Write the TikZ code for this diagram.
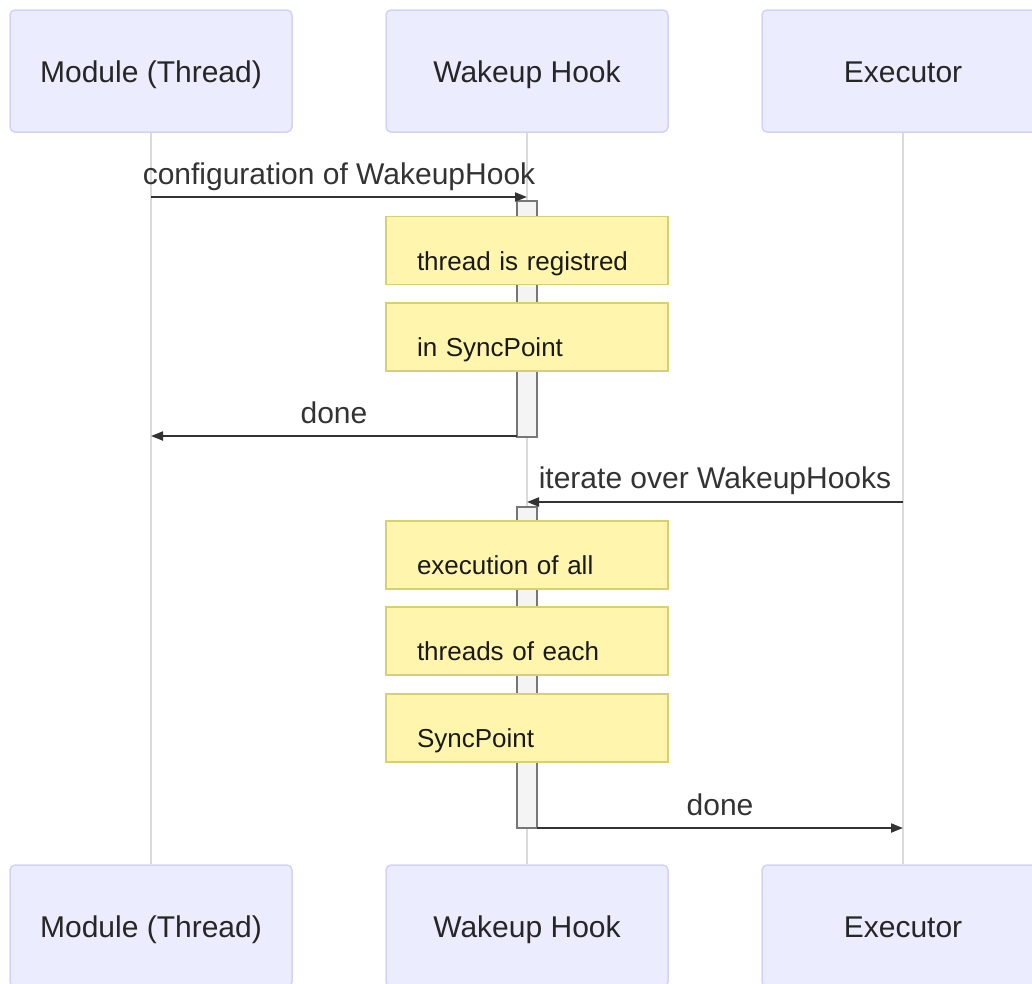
\documentclass[tikz,border=0pt]{standalone}
\usepackage{fontspec}
\setmainfont{Liberation Sans}
\usetikzlibrary{arrows.meta}
\definecolor{actorfill}{HTML}{ECECFF}
\definecolor{actorline}{HTML}{D2D2F6}
\definecolor{notefill}{HTML}{FFF5AD}
\definecolor{noteline}{HTML}{D8D070}
\definecolor{msgline}{HTML}{333333}
\definecolor{lifecol}{HTML}{DADADA}
\definecolor{actfill}{HTML}{F4F4F4}
\definecolor{actline}{HTML}{777777}
\begin{document}
\begin{tikzpicture}[x=1pt,y=-1pt,
  actor/.style={draw=actorline,line width=1.5pt,fill=actorfill,rounded corners=5pt,minimum width=282pt,minimum height=122pt,inner sep=0pt,text height=23pt,text depth=0pt,text=black!85,font=\fontsize{30}{36}\selectfont},
  note/.style={draw=noteline,line width=1.5pt,fill=notefill,minimum width=282pt,minimum height=68pt,inner xsep=31pt,inner ysep=0pt,text width=220pt,align=left,text height=39pt,text depth=0pt,text=black!90,font=\fontsize{26}{30}\selectfont},
  activ/.style={draw=actline,line width=1.5pt,fill=actfill,minimum width=20pt,inner sep=0pt},
  msg/.style={draw=msgline,line width=2pt,-{Triangle[length=12pt,width=9pt]}},
  msglabel/.style={anchor=base,inner sep=0pt,text=msgline,font=\fontsize{30}{36}\selectfont},
  life/.style={draw=lifecol,line width=1.5pt}]
\useasboundingbox (0,0) rectangle (1032,983);
\clip (0,0) rectangle (1032,983);
\node[actor] (modT) at (151,71) {Module (Thread)};
\node[actor] (hookT) at (527,71) {Wakeup Hook};
\node[actor] (execT) at (903,71) {Executor};
\node[actor] (modB) at (151,926) {Module (Thread)};
\node[actor] (hookB) at (527,926) {Wakeup Hook};
\node[actor] (execB) at (903,926) {Executor};
\draw[life] (modT) -- (modB);
\draw[life] (hookT) -- (hookB);
\draw[life] (execT) -- (execB);
\node[activ,minimum height=236pt] (act1) at (527,319) {};
\node[activ,minimum height=321pt] (act2) at (527,667.5) {};
\node[note] (reg1) at (527,250.5) {thread is registred};
\node[note] (reg2) at (527,337) {in SyncPoint};
\node[note] (run1) at (527,555) {execution of all};
\node[note] (run2) at (527,641) {threads of each};
\node[note] (run3) at (527,728) {SyncPoint};
\coordinate (cfgA) at (151,197);
\coordinate (cfgB) at (527,197);
\coordinate (doneA) at (517,436);
\coordinate (doneB) at (151,436);
\coordinate (iterA) at (903,502);
\coordinate (iterB) at (527,502);
\coordinate (finA) at (537,828);
\coordinate (finB) at (903,828);
\draw[msg] (cfgA) -- (cfgB);
\draw[msg] (doneA) -- (doneB);
\draw[msg] (iterA) -- (iterB);
\draw[msg] (finA) -- (finB);
\node[msglabel] (cfgL) at (339,184) {configuration of WakeupHook};
\node[msglabel] (doneL) at (334,423) {done};
\node[msglabel] (iterL) at (715,488) {iterate over WakeupHooks};
\node[msglabel] (finL) at (720,815) {done};
\end{tikzpicture}
\end{document}
